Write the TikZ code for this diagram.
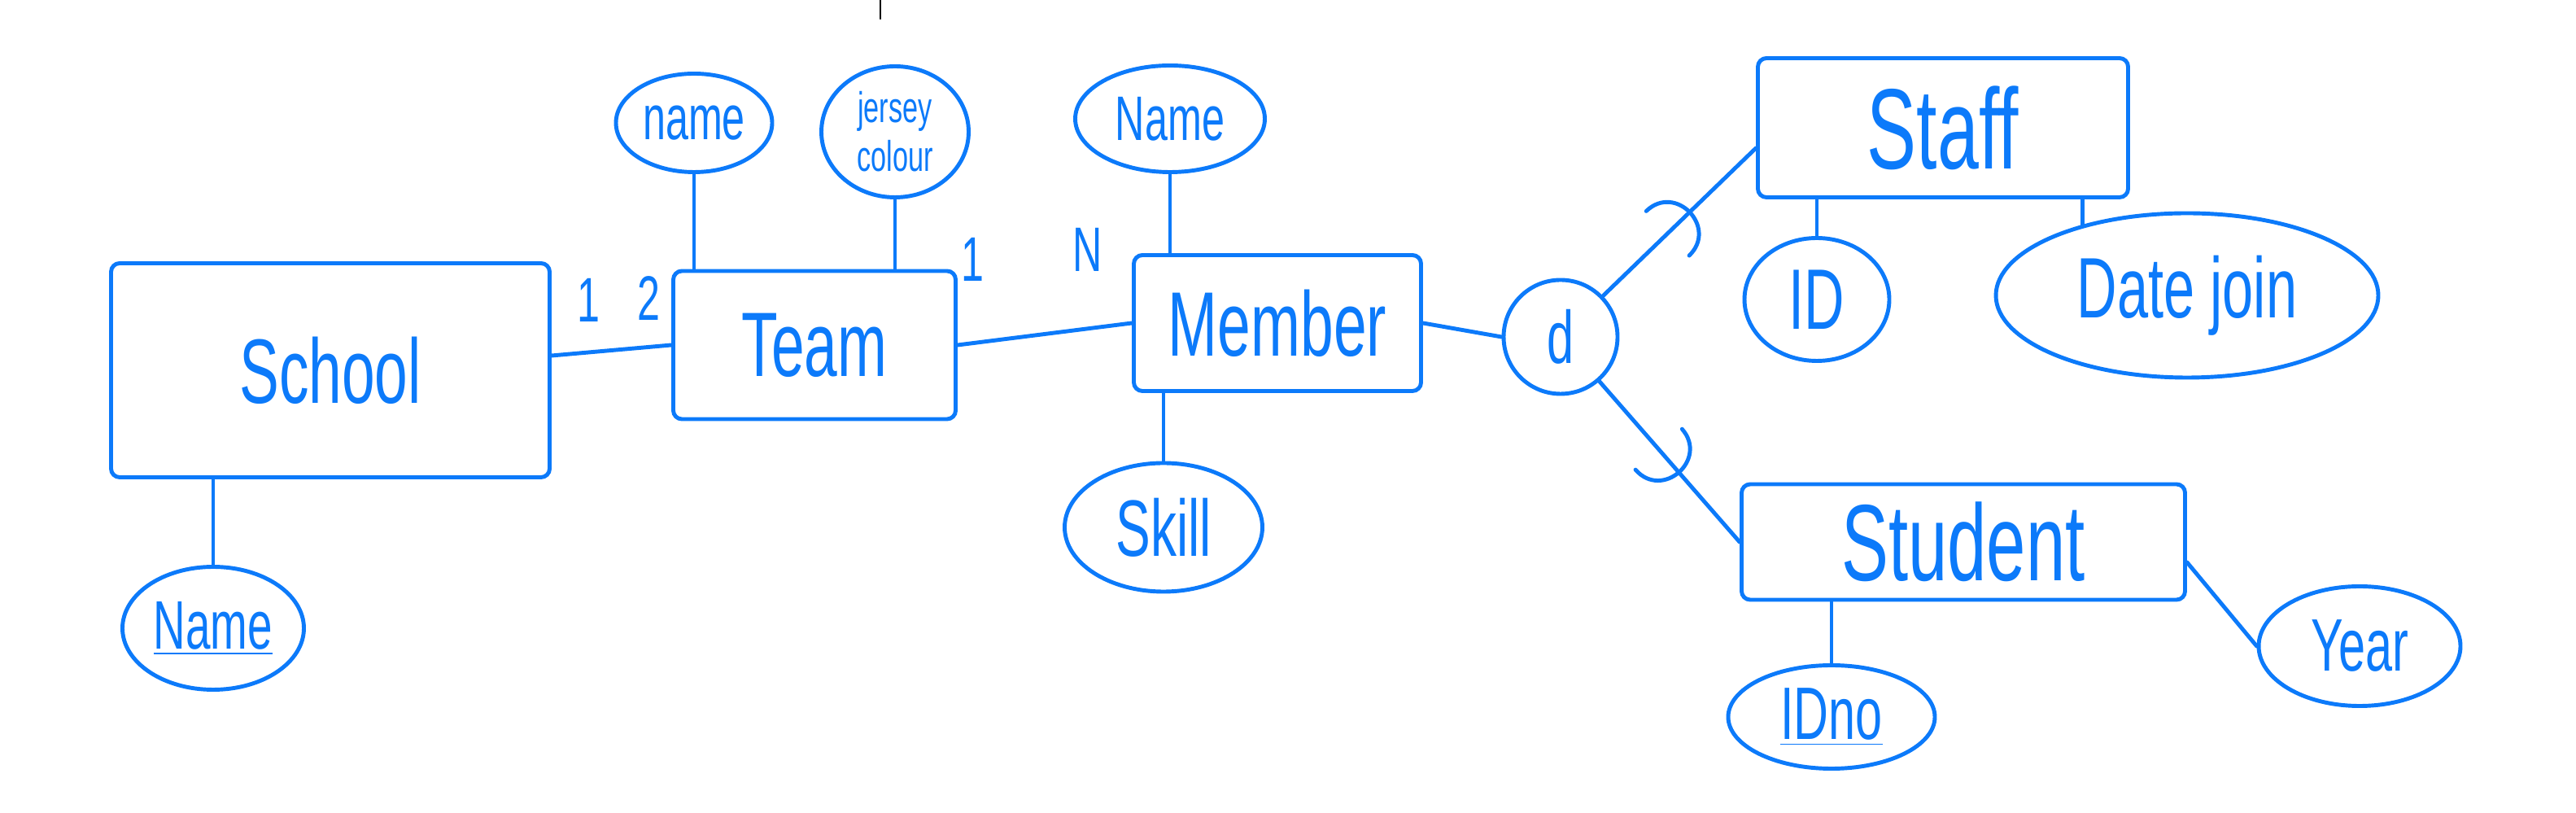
\documentclass[tikz,border=0pt]{standalone}
\usepackage{fontspec}
\newfontfamily\pen[FakeStretch=0.65]{Liberation Sans}
\usetikzlibrary{shapes.geometric,decorations.markings}
\definecolor{penblue}{RGB}{12,122,250}

\begin{document}
\begin{tikzpicture}[color=penblue, line width=1.4pt, line cap=round,
  ent/.style={draw, rectangle, rounded corners=3pt, font=\pen\fontsize{32}{36}\selectfont},
  att/.style={draw, ellipse, inner sep=0pt, font=\pen\fontsize{22}{26}\selectfont},
  card/.style={font=\pen\fontsize{22}{26}\selectfont},
  isa/.style={postaction={decorate, decoration={markings,
    mark=at position 0.5 with {\draw (-0.2,0.38) .. controls (0.3,0.38) and (0.3,-0.38) .. (-0.2,-0.38);}}}}]
\useasboundingbox (0,0) rectangle (31.66,9.99);
\draw[black, line width=0.8pt] (10.82,9.99) -- (10.82,9.76);

% entities
\node[ent, minimum width=5.39cm, minimum height=2.63cm] (school) at (4.06,5.44) {School};
\node[ent, minimum width=3.47cm, minimum height=1.82cm] (team) at (10.01,5.75) {Team};
\node[ent, minimum width=3.53cm, minimum height=1.67cm] (member) at (15.70,6.02) {Member};
\node[ent, minimum width=4.55cm, minimum height=1.71cm, font=\pen\fontsize{40}{44}\selectfont] (staff) at (23.88,8.42) {Staff};
\node[ent, minimum width=5.45cm, minimum height=1.42cm, font=\pen\fontsize{38}{42}\selectfont] (student) at (24.13,3.33) {Student};
\node[draw, circle, minimum size=1.4cm, inner sep=0pt, font=\pen\fontsize{26}{30}\selectfont] (d) at (19.18,5.85) {d};

% attributes
\node[att, minimum width=2.23cm, minimum height=1.51cm, font=\pen\fontsize{24}{28}\selectfont] (schoolname) at (2.62,2.27) {\underline{Name}};
\node[att, minimum width=1.92cm, minimum height=1.21cm] (teamname) at (8.53,8.48) {name};
\node[att, minimum width=1.81cm, minimum height=1.61cm, align=center, font=\pen\fontsize{15}{17}\selectfont] (jersey) at (11.00,8.37) {jersey\\colour};
\node[att, minimum width=2.33cm, minimum height=1.31cm] (membername) at (14.38,8.53) {Name};
\node[att, minimum width=2.43cm, minimum height=1.58cm, font=\pen\fontsize{28}{32}\selectfont] (skill) at (14.30,3.51) {Skill};
\node[att, minimum width=1.78cm, minimum height=1.51cm, font=\pen\fontsize{30}{34}\selectfont] (staffid) at (22.33,6.31) {ID};
\node[att, minimum width=4.70cm, minimum height=2.02cm, font=\pen\fontsize{30}{34}\selectfont] (datejoin) at (26.88,6.36) {Date join};
\node[att, minimum width=2.54cm, minimum height=1.27cm, font=\pen\fontsize{26}{30}\selectfont] (idno) at (22.51,1.18) {\underline{IDno}};
\node[att, minimum width=2.48cm, minimum height=1.47cm, font=\pen\fontsize{26}{30}\selectfont] (year) at (29.00,2.05) {Year};

% cardinalities
\node[card] (c1) at (7.23,6.30) {1};
\node[card] (c2) at (7.97,6.32) {2};
\node[card] (c3) at (11.95,6.80) {1};
\node[card] (c4) at (13.37,6.92) {N};

% links
\draw ([yshift=0.18cm]school.east) -- (team.west);
\draw (team.east) -- (member.west);
\draw (member.east) -- (d.west);
\draw[isa] (d) -- ([yshift=-0.25cm]staff.west);
\draw[isa] (d) -- (student.west);
\draw (schoolname.north) -- (schoolname.north |- school.south);
\draw (teamname.south) -- (teamname.south |- team.north);
\draw (jersey.south) -- (jersey.south |- team.north);
\draw (membername.south) -- (membername.south |- member.north);
\draw (skill.north) -- (skill.north |- member.south);
\draw (staffid.north) -- (staffid.north |- staff.south);
\draw (datejoin.146) -- (datejoin.146 |- staff.south);
\draw (idno.north) -- (idno.north |- student.south);
\draw ([yshift=-0.25cm]student.east) -- (year.west);
\end{tikzpicture}
\end{document}
